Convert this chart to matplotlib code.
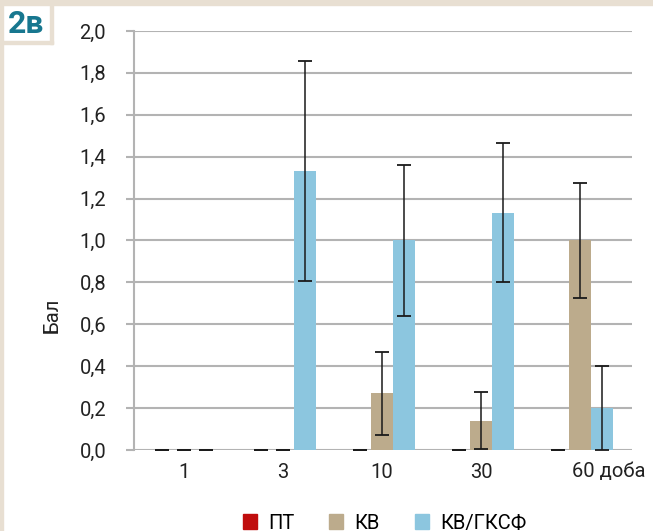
import matplotlib
matplotlib.use("Agg")
import matplotlib.pyplot as plt
import matplotlib.patches as mpatches
from matplotlib.transforms import ScaledTranslation
import numpy as np
from matplotlib import font_manager

# ---- data ----
categories = ["1", "3", "10", "30", "60 доба"]
series_names = ["ПТ", "КВ", "КВ/ГКСФ"]
pt_values = [0, 0, 0, 0, 0]
pt_err = [0, 0, 0, 0, 0]
kv_values = [0, 0, 0.27, 0.14, 1.0]
kv_err = [0, 0, 0.20, 0.135, 0.275]
gksf_values = [0, 1.333, 1.0, 1.133, 0.2]
gksf_err = [0, 0.525, 0.36, 0.333, 0.2]
yticks = [0.0, 0.2, 0.4, 0.6, 0.8, 1.0, 1.2, 1.4, 1.6, 1.8, 2.0]
ytick_labels = ["0,0", "0,2", "0,4", "0,6", "0,8", "1,0", "1,2", "1,4", "1,6", "1,8", "2,0"]
y_label = "Бал"
panel_label = "2в"

colors = ["#c00d0d", "#bcab8c", "#8cc6df"]
beige = "#e8dfd2"

names = {f.name for f in font_manager.fontManager.ttflist}
fam = "Liberation Sans Narrow" if "Liberation Sans Narrow" in names else "Roboto"
plt.rcParams['font.family'] = [fam, "DejaVu Sans"]
FS = 14.5

W, H = 653, 531
fig = plt.figure(figsize=(W / 100, H / 100), dpi=100)
fig.patch.set_facecolor("white")

ax = fig.add_axes([134 / W, 1 - 450 / H, (632 - 134) / W, (450 - 31) / H])
x = np.arange(len(categories))
bw = 0.225
grey = "#b3b3b3"
for y in yticks:
    ax.axhline(y, color=grey, lw=1.5, zorder=0)

for vals, errs, off, c in zip([pt_values, kv_values, gksf_values],
                              [pt_err, kv_err, gksf_err],
                              [-bw, 0, bw], colors):
    ax.bar(x + off, vals, width=bw, color=c, zorder=2)
    ax.errorbar(x + off, vals, yerr=errs, fmt="none", ecolor="#1a1a1a",
                elinewidth=1.1, capsize=5.2, capthick=1.3, zorder=3)

ax.set_xlim(-0.505, 4.525)
ax.set_ylim(0, 2.0)
ax.set_yticks(yticks)
ax.set_yticklabels(ytick_labels, fontsize=FS, color="#222222")
ax.set_xticks(x)
ax.set_xticklabels(categories, fontsize=FS, color="#222222")
ax.tick_params(axis="y", length=6, width=1.5, color=grey, pad=14)
ax.tick_params(axis="x", length=0, pad=9)
for s in ["top", "right", "bottom"]:
    ax.spines[s].set_visible(False)
ax.spines["left"].set_color(grey)
ax.spines["left"].set_linewidth(1.5)
ax.set_ylabel(y_label, fontsize=FS, color="#222222")
ax.yaxis.set_label_coords((61 - 134) / (632 - 134), (450 - 315) / (450 - 31))

lbl = ax.get_xticklabels()[-1]
lbl.set_ha("left")
lbl.set_transform(lbl.get_transform() + ScaledTranslation(-8 / 100, 0, fig.dpi_scale_trans))

handles = [mpatches.Patch(color=c, label=n) for c, n in zip(colors, series_names)]
fig.legend(handles=handles, loc="center", bbox_to_anchor=(0.589, 0.015), ncol=3,
           frameon=False, fontsize=FS, handlelength=0.7, handleheight=0.7,
           handletextpad=0.55, columnspacing=1.75)

# frame decorations
fig.patches.append(mpatches.Rectangle((0, 1 - 5 / H), 1, 5 / H, transform=fig.transFigure,
                                      color=beige, zorder=0))
fig.patches.append(mpatches.Rectangle((0, 0), 3 / W, 1, transform=fig.transFigure,
                                      color=beige, zorder=0))
fig.patches.append(mpatches.Rectangle((50 / W, 1 - 44 / H), 3 / W, 39 / H, transform=fig.transFigure,
                                      color=beige, zorder=0))
fig.patches.append(mpatches.Rectangle((3 / W, 1 - 44 / H), 50 / W, 3 / H, transform=fig.transFigure,
                                      color=beige, zorder=0))
fig.text(26 / W, 1 - 24 / H, panel_label, fontsize=23, fontweight="bold", color="#17778f",
         ha="center", va="center", family=["Roboto", "DejaVu Sans"])

fig.savefig("out.png", dpi=100)
